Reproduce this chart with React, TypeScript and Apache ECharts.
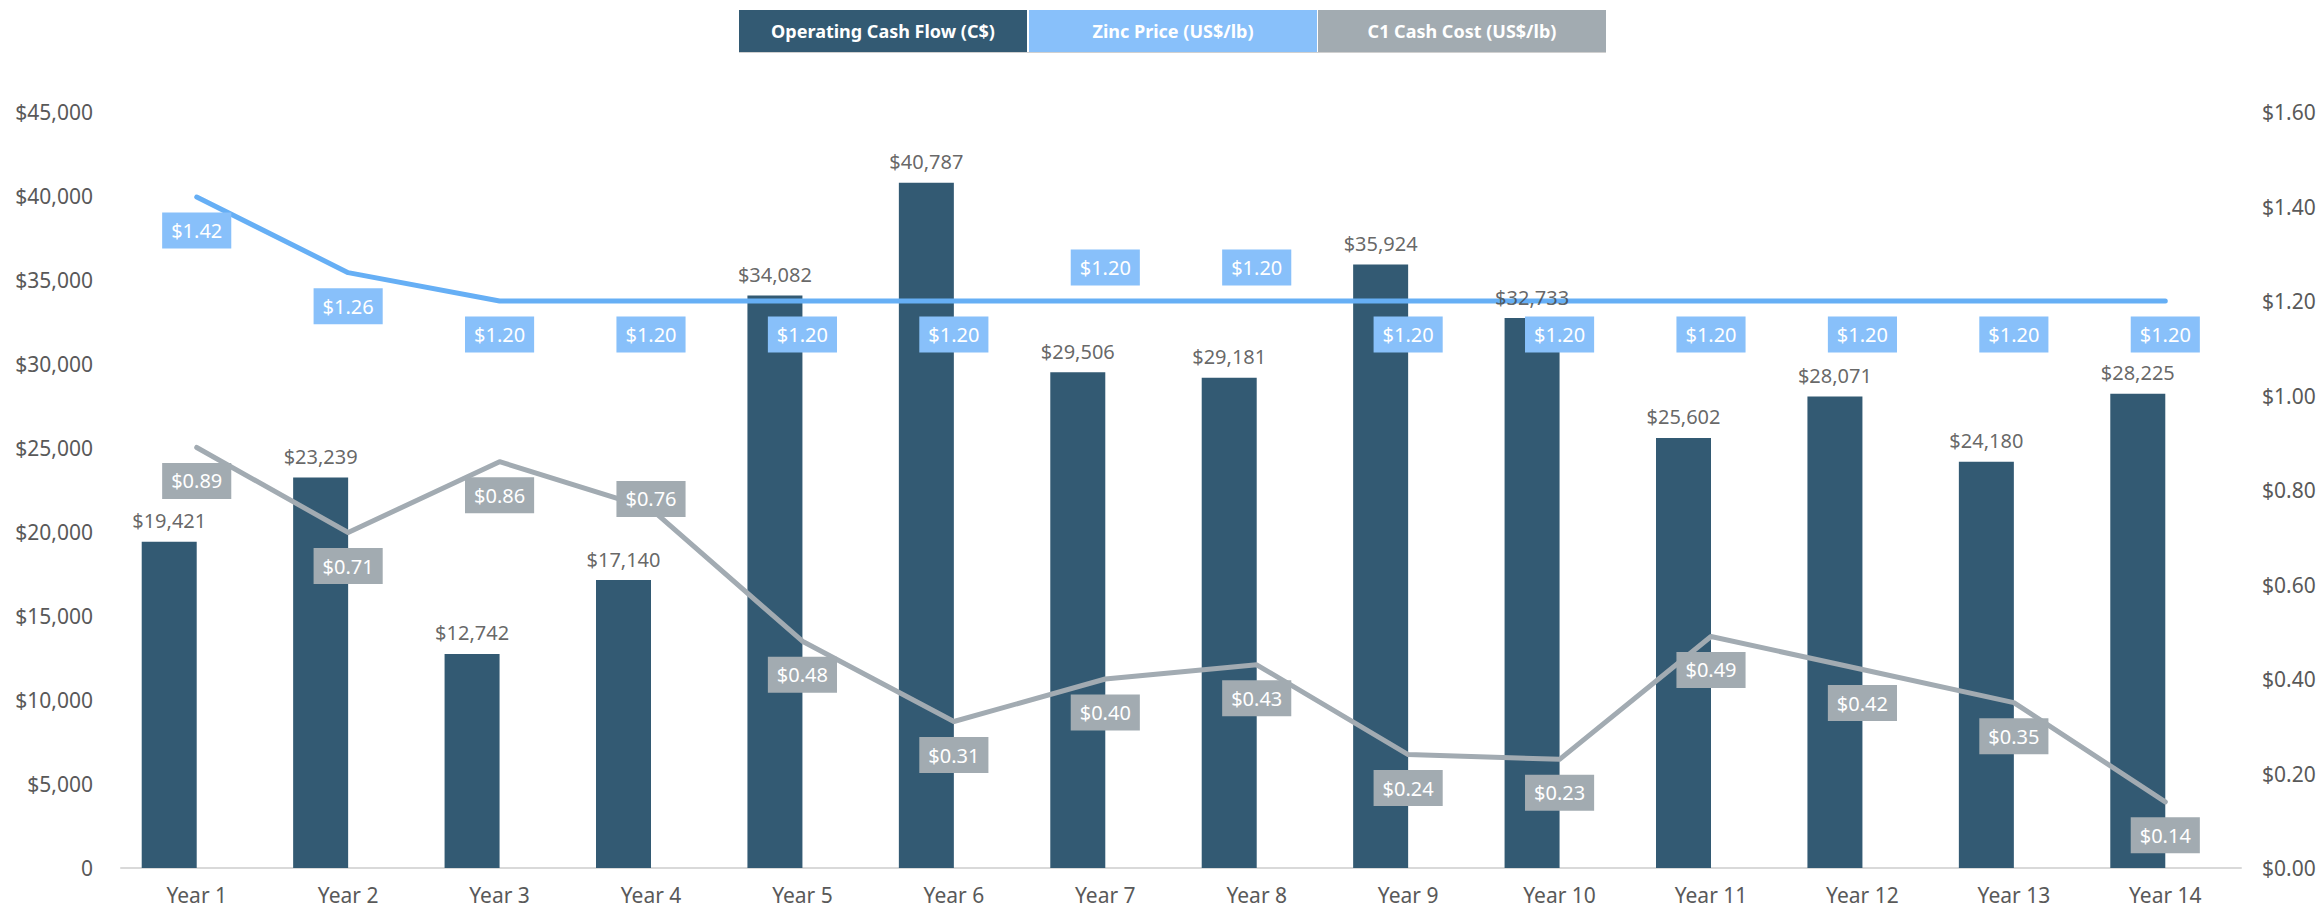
import React, { useEffect, useRef } from "react";
import * as echarts from "echarts";

const categories = [
  "Year 1", "Year 2", "Year 3", "Year 4", "Year 5", "Year 6", "Year 7",
  "Year 8", "Year 9", "Year 10", "Year 11", "Year 12", "Year 13", "Year 14",
];
const cashFlow = [19421, 23239, 12742, 17140, 34082, 40787, 29506, 29181, 35924, 32733, 25602, 28071, 24180, 28225];
const zincPrice = [1.42, 1.26, 1.2, 1.2, 1.2, 1.2, 1.2, 1.2, 1.2, 1.2, 1.2, 1.2, 1.2, 1.2];
const c1Cost = [0.89, 0.71, 0.86, 0.76, 0.48, 0.31, 0.4, 0.43, 0.24, 0.23, 0.49, 0.42, 0.35, 0.14];
const zincLabelPos = ["bottom", "bottom", "bottom", "bottom", "bottom", "bottom", "top", "top", "bottom", "bottom", "bottom", "bottom", "bottom", "bottom"];
const c1LabelPos = ["bottom", "bottom", "bottom", "inside", "bottom", "bottom", "bottom", "bottom", "bottom", "bottom", "bottom", "bottom", "bottom", "bottom"];
const legendNames = ["Operating Cash Flow (C$)", "Zinc Price (US$/lb)", "C1 Cash Cost (US$/lb)"];

const leftMin = 0, leftMax = 45000, leftStep = 5000;
const rightMin = 0, rightMax = 1.6, rightStep = 0.2;

const BAR = "#335A73";
const ZINC_LINE = "#66AFF5";
const ZINC_LABEL = "#88C0FA";
const C1_LINE = "#A2ABB2";
const C1_LABEL = "#A2ABB1";
const FONT = "'Noto Sans', 'Open Sans', sans-serif";
const BAR_W = 55;

export default function App() {
  const ref = useRef<HTMLDivElement>(null);

  useEffect(() => {
    if (!ref.current) return;
    const chart = echarts.init(ref.current, null, { renderer: "svg" });

    const legendColors = [BAR, ZINC_LABEL, C1_LABEL];
    const legendX = [739, 1029, 1318];
    const legendW = 288;
    const graphic: any[] = [];
    legendNames.forEach((name, i) => {
      graphic.push({
        type: "rect",
        shape: { x: legendX[i], y: 10, width: legendW, height: 42 },
        style: { fill: legendColors[i] },
        z: 10,
      });
      graphic.push({
        type: "text",
        x: legendX[i] + legendW / 2,
        y: 31,
        style: {
          text: name,
          fill: "#ffffff",
          fontSize: 18,
          fontWeight: "bold",
          fontFamily: FONT,
          align: "center",
          verticalAlign: "middle",
        },
        z: 11,
      });
    });
    graphic.push({
      type: "rect",
      shape: { x: 739, y: 52, width: 867, height: 1 },
      style: { fill: "#D0D0D0" },
      z: 10,
    });

    const lineLabel = (bg: string) => ({
      show: true,
      color: "#ffffff",
      fontSize: 20,
      lineHeight: 20,
      fontFamily: FONT,
      backgroundColor: bg,
      padding: [8, 9],
      distance: 15,
      formatter: (p: any) => "$" + Number(p.value).toFixed(2),
    });

    chart.setOption({
      animation: false,
      textStyle: { fontFamily: FONT },
      grid: { left: 121, right: 82, top: 112, bottom: 42 },
      graphic,
      xAxis: {
        type: "category",
        data: categories,
        axisLine: { lineStyle: { color: "#D9D9D9", width: 2 } },
        axisTick: { show: false },
        axisLabel: { color: "#595959", fontSize: 21, margin: 16, fontFamily: FONT },
      },
      yAxis: [
        {
          type: "value",
          min: leftMin,
          max: leftMax,
          interval: leftStep,
          splitLine: { show: false },
          axisLine: { show: false },
          axisTick: { show: false },
          axisLabel: {
            color: "#595959",
            fontSize: 21,
            margin: 28,
            fontFamily: FONT,
            formatter: (v: number) => (v === 0 ? "0" : "$" + v.toLocaleString("en-US")),
          },
        },
        {
          type: "value",
          position: "right",
          min: rightMin,
          max: rightMax,
          interval: rightStep,
          splitLine: { show: false },
          axisLine: { show: false },
          axisTick: { show: false },
          axisLabel: {
            color: "#595959",
            fontSize: 21,
            margin: 21,
            fontFamily: FONT,
            formatter: (v: number) => "$" + v.toFixed(2),
          },
        },
      ],
      series: [
        {
          name: legendNames[0],
          type: "bar",
          data: cashFlow,
          barWidth: BAR_W,
          barGap: "0%",
          itemStyle: { color: BAR },
          z: 2,
        },
        {
          name: "_spacer",
          type: "bar",
          data: cashFlow.map(() => null),
          barWidth: BAR_W,
          barGap: "0%",
          itemStyle: { color: "transparent" },
          silent: true,
          z: 2,
        },
        {
          name: legendNames[1],
          type: "line",
          yAxisIndex: 1,
          data: zincPrice.map((v, i) => ({
            value: v,
            label: { position: zincLabelPos[i] },
          })),
          symbol: "circle",
          symbolSize: 1,
          itemStyle: { color: ZINC_LINE },
          lineStyle: { color: ZINC_LINE, width: 5, cap: "round", join: "round" },
          label: lineLabel(ZINC_LABEL),
          z: 3,
        },
        {
          name: legendNames[2],
          type: "line",
          yAxisIndex: 1,
          data: c1Cost.map((v, i) => ({
            value: v,
            label:
              c1LabelPos[i] === "inside"
                ? { position: "inside", offset: [0, -10] }
                : { position: c1LabelPos[i] },
          })),
          symbol: "circle",
          symbolSize: 1,
          itemStyle: { color: C1_LINE },
          lineStyle: { color: C1_LINE, width: 5, cap: "round", join: "round" },
          label: lineLabel(C1_LABEL),
          z: 3,
        },
        {
          name: "_barLabels",
          type: "scatter",
          yAxisIndex: 0,
          data: cashFlow,
          symbolSize: 0,
          silent: true,
          label: {
            show: true,
            position: "top",
            distance: 11,
            offset: [-BAR_W / 2, 0],
            color: "#404040",
            fontSize: 20,
            fontFamily: FONT,
            formatter: (p: any) => "$" + Number(p.value).toLocaleString("en-US"),
          },
          z: 5,
        },
      ],
    });

    return () => chart.dispose();
  }, []);

  return (
    <div
      ref={ref}
      style={{ position: "fixed", left: 0, top: 0, width: 2323, height: 910, background: "#ffffff" }}
    />
  );
}
